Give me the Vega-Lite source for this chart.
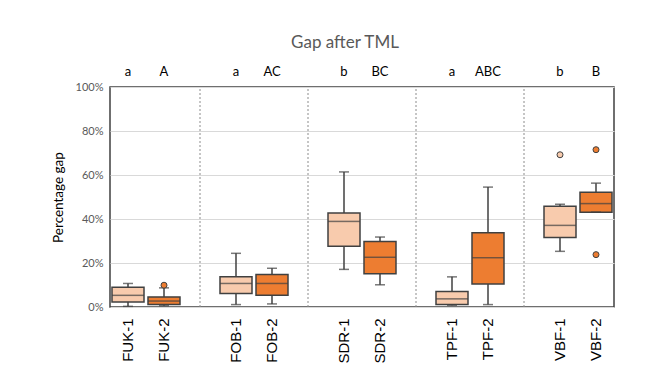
{
  "$schema": "https://vega.github.io/schema/vega-lite/v6.json",
  "width": 504,
  "height": 220,
  "autosize": "none",
  "padding": {"left": 110, "top": 87, "right": 44, "bottom": 79},
  "background": "white",
  "title": {
    "text": "Gap after TML",
    "font": "Lato",
    "fontSize": 17,
    "fontWeight": "normal",
    "color": "#595959",
    "anchor": "middle",
    "frame": "group",
    "dx": -17,
    "offset": 14
  },
  "config": {
    "view": {"stroke": "#404040", "strokeWidth": 1.5},
    "axisX": {"grid": false},
    "axisY": {
      "labelOverlap": false,
      "labelFont": "Lato",
      "labelFontSize": 11,
      "labelColor": "#595959",
      "labelPadding": 7,
      "ticks": false,
      "domain": false,
      "grid": true,
      "gridColor": "#d9d9d9",
      "gridWidth": 1
    }
  },
  "datasets": {
    "boxes": [
      {"site": "FUK-1", "set": "1", "lo": 0.3, "q1": 2.3, "med": 5.3, "q3": 9.0, "hi": 10.7, "letter": "a"},
      {"site": "FUK-2", "set": "2", "lo": 0.6, "q1": 1.1, "med": 2.7, "q3": 4.6, "hi": 8.7, "letter": "A"},
      {"site": "FOB-1", "set": "1", "lo": 1.1, "q1": 6.1, "med": 10.7, "q3": 13.7, "hi": 24.4, "letter": "a"},
      {"site": "FOB-2", "set": "2", "lo": 1.4, "q1": 5.3, "med": 10.7, "q3": 14.8, "hi": 17.6, "letter": "AC"},
      {"site": "SDR-1", "set": "1", "lo": 17.1, "q1": 27.6, "med": 38.9, "q3": 42.7, "hi": 61.4, "letter": "b"},
      {"site": "SDR-2", "set": "2", "lo": 10.1, "q1": 15.1, "med": 22.6, "q3": 29.8, "hi": 31.8, "letter": "BC"},
      {"site": "TPF-1", "set": "1", "lo": 0.8, "q1": 1.1, "med": 3.7, "q3": 7.0, "hi": 13.7, "letter": "a"},
      {"site": "TPF-2", "set": "2", "lo": 1.1, "q1": 10.5, "med": 22.4, "q3": 33.7, "hi": 54.5, "letter": "ABC"},
      {"site": "VBF-1", "set": "1", "lo": 25.3, "q1": 31.6, "med": 37.1, "q3": 45.8, "hi": 46.7, "letter": "b"},
      {"site": "VBF-2", "set": "2", "lo": 43.1, "q1": 43.1, "med": 47.0, "q3": 52.2, "hi": 56.3, "letter": "B"}
    ],
    "outliers": [
      {"site": "FUK-2", "set": "2", "v": 9.9},
      {"site": "VBF-1", "set": "1", "v": 69.2},
      {"site": "VBF-2", "set": "2", "v": 71.5},
      {"site": "VBF-2", "set": "2", "v": 23.8}
    ],
    "seps": [{"site": " "}, {"site": "  "}, {"site": "   "}, {"site": "    "}]
  },
  "encoding": {
    "x": {
      "field": "site",
      "type": "nominal",
      "sort": null,
      "scale": {
        "domain": ["FUK-1", "FUK-2", " ", "FOB-1", "FOB-2", "  ", "SDR-1", "SDR-2", "   ", "TPF-1", "TPF-2", "    ", "VBF-1", "VBF-2"],
        "paddingInner": 0,
        "paddingOuter": 0
      },
      "axis": {
        "title": null,
        "labelAngle": -90,
        "labelAlign": "right",
        "labelBaseline": "middle",
        "labelFont": "Liberation Sans",
        "labelFontSize": 15,
        "labelColor": "#000000",
        "labelPadding": 11,
        "ticks": false,
        "domain": false
      }
    }
  },
  "layer": [
    {
      "data": {"name": "seps"},
      "mark": {"type": "rule", "color": "#8c8c8c", "strokeWidth": 1, "strokeDash": [2, 2]},
      "encoding": {
        "y": {
          "datum": 0,
          "type": "quantitative",
          "scale": {"domain": [0, 100]},
          "axis": {
            "title": "Percentage gap",
            "titleFont": "Lato",
            "titleFontSize": 13.5,
            "titleFontWeight": "normal",
            "titleColor": "#000000",
            "titlePadding": 10,
            "values": [0, 10, 20, 30, 40, 50, 60, 70, 80, 90, 100],
            "labelExpr": "datum.value + '%'",
            "labelOverlap": false
          }
        },
        "y2": {"datum": 100}
      }
    },
    {
      "data": {"name": "boxes"},
      "mark": {"type": "rule", "color": "#404040", "strokeWidth": 1.5},
      "encoding": {
        "y": {"field": "lo", "type": "quantitative"},
        "y2": {"field": "hi"}
      }
    },
    {
      "data": {"name": "boxes"},
      "mark": {"type": "bar", "size": 32, "stroke": "#404040", "strokeWidth": 1.5},
      "encoding": {
        "y": {"field": "q1", "type": "quantitative"},
        "y2": {"field": "q3"},
        "color": {"field": "set", "type": "nominal", "scale": {"domain": ["1", "2"], "range": ["#F8CBAD", "#ED7D31"]}, "legend": null}
      }
    },
    {
      "data": {"name": "boxes"},
      "mark": {"type": "tick", "color": "#404040", "size": 32, "thickness": 1.5},
      "encoding": {"y": {"field": "med", "type": "quantitative"}}
    },
    {
      "data": {"name": "boxes"},
      "mark": {"type": "tick", "color": "#404040", "size": 10, "thickness": 1.5},
      "encoding": {"y": {"field": "lo", "type": "quantitative"}}
    },
    {
      "data": {"name": "boxes"},
      "mark": {"type": "tick", "color": "#404040", "size": 10, "thickness": 1.5},
      "encoding": {"y": {"field": "hi", "type": "quantitative"}}
    },
    {
      "data": {"name": "boxes"},
      "mark": {"type": "text", "font": "Lato", "fontSize": 13, "color": "#000000", "baseline": "middle"},
      "encoding": {
        "y": {"datum": 106.8, "type": "quantitative"},
        "text": {"field": "letter"}
      }
    },
    {
      "data": {"name": "outliers"},
      "mark": {"type": "circle", "size": 36, "stroke": "#404040", "strokeWidth": 1, "opacity": 1},
      "encoding": {
        "y": {"field": "v", "type": "quantitative"},
        "color": {"field": "set", "type": "nominal", "scale": {"domain": ["1", "2"], "range": ["#F8CBAD", "#ED7D31"]}, "legend": null}
      }
    }
  ]
}
